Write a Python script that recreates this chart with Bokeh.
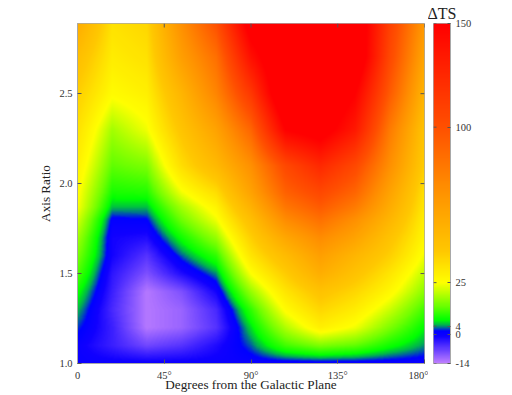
from bokeh.plotting import figure
from bokeh.layouts import row
from bokeh.models import LinearColorMapper, FixedTicker, Title, Range1d
from bokeh.embed import file_html
from bokeh.resources import INLINE
import numpy as np

x_ticks = [0, 45, 90, 135, 180]
x_tick_labels = ["0", "45°", "90°", "135°", "180°"]
y_ticks = [1.0, 1.5, 2.0, 2.5]
y_tick_labels = ["1.0", "1.5", "2.0", "2.5"]
cbar_ticks = [-14, 0, 4, 25, 100, 150]
cbar_stops = [-14, -1, 1.5, 3, 4.5, 7, 14, 25, 40, 70, 100, 125, 150]
cbar_colors = ["#c080ff", "#1000ff", "#0000ff", "#0060a0", "#00b050", "#00ff00", "#70ff00",
               "#ffff00", "#ffc800", "#ff9000", "#ff5000", "#ff2800", "#ff0000"]

# Delta-TS at the nodes of its coarse grid (ridges sit every 18 degrees).
x_nodes = [0, 18, 36, 54, 72, 90, 108, 126, 144, 162, 180]
y_nodes = [1.0, 1.1, 1.2, 1.3, 1.4, 1.5, 1.6, 1.7, 1.8, 1.87, 1.95, 2.1, 2.3, 2.5, 2.7, 2.89]
ts_100 = [0, 0, 0, 0, 0, 0, 0, 0, 0, 0, 0]
ts_110 = [0, -4, -8, -6, -2, 3, 11, 15, 13, 8, 4]
ts_120 = [2.5, -4, -13, -11, -6, 6, 19, 29, 24, 15, 7]
ts_130 = [5, -5, -13, -11, -5, 10, 26, 36, 30, 21, 11]
ts_140 = [8, -4, -13, -9, -1, 17, 32, 43, 36, 27, 16]
ts_150 = [12, -3, -9, -2, 4, 25, 39, 54, 43, 32, 20]
ts_160 = [15, -1, -6, 3, 10, 32, 47, 62, 50, 38, 24]
ts_170 = [18, -1, -2, 8, 17, 38, 58, 72, 60, 43, 27]
ts_180 = [22, 1, 1.5, 14, 24, 45, 72, 85, 70, 50, 29]
ts_187 = [25, 5, 5, 18, 28, 52, 82, 95, 80, 55, 31]
ts_195 = [26, 8.5, 9, 24, 34, 60, 92, 105, 90, 60, 33]
ts_210 = [29, 13, 15, 34, 48, 70, 105, 125, 105, 70, 38]
ts_230 = [33, 18, 24, 42, 60, 90, 150, 160, 135, 80, 42]
ts_250 = [38, 26, 29, 50, 75, 115, 175, 175, 150, 95, 50]
ts_270 = [45, 30, 33, 62, 85, 140, 175, 175, 170, 105, 58]
ts_289 = [55, 33, 36, 70, 100, 160, 175, 175, 170, 110, 65]
ts_rows = [ts_100, ts_110, ts_120, ts_130, ts_140, ts_150, ts_160, ts_170, ts_180, ts_187,
           ts_195, ts_210, ts_230, ts_250, ts_270, ts_289]

# Continuous colour scale built from the colour-bar stops.
low, high = cbar_ticks[0], cbar_ticks[-1]
levels = np.linspace(low, high, 657)
rgb = np.array([[int(c[i:i + 2], 16) for i in (1, 3, 5)] for c in cbar_colors], float)
palette = ["#%02x%02x%02x" % tuple(int(round(np.interp(v, cbar_stops, rgb[:, k]))) for k in range(3)) for v in levels]
mapper = LinearColorMapper(palette=palette, low=low, high=high)

# Display smoothing only, as the reference's shaded surface does: the estimated nodes above are
# the data; this resamples them bilinearly to screen resolution so that cells do not show.
W, H = 347, 340
xs = (np.arange(W) + 0.5) / W * x_nodes[-1]
ys = y_nodes[0] + (np.arange(H) + 0.5) / H * (y_nodes[-1] - y_nodes[0])
grid = np.array(ts_rows, float)
by_x = np.array([np.interp(xs, x_nodes, r) for r in grid])
surface = np.array([np.interp(ys, y_nodes, c) for c in by_x.T]).T

SERIF = "Liberation Serif"
GREY = "#a8a8a8"
TICK = "#555555"
TXT = "#333333"

p = figure(frame_width=W, frame_height=H, width=428, height=392,
           x_range=Range1d(x_nodes[0], x_nodes[-1]), y_range=Range1d(y_nodes[0], y_nodes[-1]),
           toolbar_location=None, output_backend="svg",
           min_border_left=77, min_border_top=23, min_border_right=4, min_border_bottom=0,
           x_axis_label="Degrees from the Galactic Plane", y_axis_label="Axis Ratio")
p.grid.visible = False
p.outline_line_color = GREY
p.image(image=[surface], x=x_nodes[0], y=y_nodes[0], dw=x_nodes[-1], dh=y_nodes[-1] - y_nodes[0], color_mapper=mapper)

def style(ax, ticks, labels):
    ax.ticker = FixedTicker(ticks=ticks)
    ax.minor_tick_line_color = None
    ax.major_tick_in = 4
    ax.major_tick_out = 0
    ax.major_tick_line_color = TICK
    ax.axis_line_color = GREY
    ax.major_label_overrides = dict(zip(ticks, labels))
    ax.major_label_text_font = SERIF
    ax.major_label_text_font_size = "10.5px"
    ax.major_label_text_color = TXT
    ax.axis_label_text_font = SERIF
    ax.axis_label_text_font_size = "13.2px"
    ax.axis_label_text_font_style = "normal"
    ax.axis_label_text_color = "#222222"

style(p.xaxis[0], x_ticks, x_tick_labels)
style(p.yaxis[0], y_ticks, y_tick_labels)
p.xaxis[0].major_label_standoff = 6
p.xaxis[0].axis_label_standoff = -7
p.yaxis[0].major_label_standoff = 5
p.yaxis[0].axis_label_standoff = 3

# Mirror ticks on the top and right edges of the map.
dy = (y_nodes[-1] - y_nodes[0]) * 4 / H
dx = x_nodes[-1] * 4 / W
p.segment(x_ticks, y_nodes[-1], x_ticks, y_nodes[-1] - dy, line_color=TICK)
p.segment(x_nodes[-1], y_ticks, x_nodes[-1] - dx, y_ticks, line_color=TICK)

c = figure(frame_width=17, frame_height=H, width=84, height=392,
           x_range=Range1d(0, 1), y_range=Range1d(low, high),
           toolbar_location=None, output_backend="svg", y_axis_location="right",
           min_border_left=5, min_border_top=23, min_border_right=0, min_border_bottom=29)
c.grid.visible = False
c.xaxis.visible = False
c.outline_line_color = GREY
c.image(image=[levels.reshape(-1, 1)], x=0, y=low, dw=1, dh=high - low, color_mapper=mapper)
style(c.yaxis[0], cbar_ticks, [str(t) for t in cbar_ticks])
c.yaxis[0].major_label_standoff = 5
c.yaxis[0].major_tick_in = 3
c.segment(0, cbar_ticks, 3 / 17, cbar_ticks, line_color=TICK)
c.add_layout(Title(text="ΔTS", align="center", offset=7, standoff=4,
                   text_font=SERIF, text_font_size="16px", text_font_style="normal", text_color="#222222"), "above")

open("out.html", "w").write(file_html(row(p, c), INLINE))
